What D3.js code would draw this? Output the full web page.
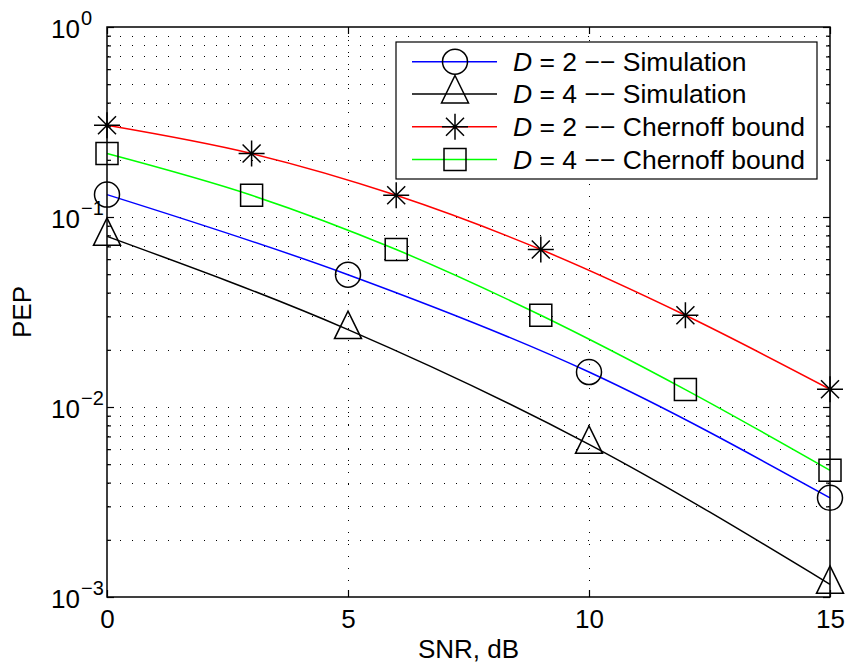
<!DOCTYPE html>
<html>
<head>
<meta charset="utf-8">
<script src="https://cdn.jsdelivr.net/npm/d3@7"></script>
<style>
  html, body { margin: 0; padding: 0; background: #fff; }
  svg { display: block; }
  text { font-family: "Liberation Sans", Arial, Helvetica, sans-serif; fill: #000; }
</style>
</head>
<body>
<svg id="chart" width="845" height="663"></svg>
<script>
// ---------------- data ----------------
const snrSim = [0, 5, 10, 15];
const pepD2Sim = [0.1312, 0.0497, 0.01528, 0.003326];
const pepD4Sim = [0.0791, 0.02555, 0.00636, 0.001166];

const snrBound = [0, 3, 6, 9, 12, 15];
const pepD2Chernoff = [0.3039, 0.2157, 0.1301, 0.0674, 0.03039, 0.01240];
const pepD4Chernoff = [0.2157, 0.1301, 0.0674, 0.0304, 0.01235, 0.004642];

const xTicks = [0, 5, 10, 15];
const yTickExponents = [0, -1, -2, -3];
const yMinorMultipliers = [2, 3, 4, 5, 6, 7, 8, 9];

const seriesNames = ["D2 Simulation", "D4 Simulation", "D2 Chernoff", "D4 Chernoff"];
const legendNumbers = ["2", "4", "2", "4"];
const legendKinds = ["Simulation", "Simulation", "Chernoff bound", "Chernoff bound"];
const seriesColors = ["#0000ff", "#000000", "#ff0000", "#00ff00"];
const seriesMarkers = ["circle", "triangle", "asterisk", "square"];

const xLabel = "SNR, dB";
const yLabel = "PEP";

// ---------------- layout ----------------
const svg = d3.select("#chart");
const L = 107, R = 830, T = 27, B = 597;
const x = d3.scaleLinear().domain([0, 15]).range([L, R]);
const y = d3.scaleLog().domain([1e-3, 1]).range([B, T]);
const FONT = 26;
const LEGEND_FONT = 26.5;

svg.append("rect").attr("x", 0).attr("y", 0).attr("width", 845).attr("height", 663).attr("fill", "#fff");

// grid values
const majorVals = yTickExponents.map(e => Math.pow(10, e));
const minorVals = [];
yTickExponents.slice(1).forEach(e => {
  yMinorMultipliers.forEach(m => minorVals.push(m * Math.pow(10, e)));
});

const grid = svg.append("g").attr("stroke", "#000").attr("stroke-width", 1)
  .attr("stroke-dasharray", "1,11").attr("shape-rendering", "crispEdges");
grid.selectAll("line.h").data(minorVals.concat(majorVals.filter(v => v < 1 && v > 1e-3)))
  .enter().append("line")
  .attr("x1", L + 1).attr("x2", R)
  .attr("y1", d => Math.round(y(d)) + 0.5).attr("y2", d => Math.round(y(d)) + 0.5)
  .attr("stroke-dashoffset", -12);
grid.selectAll("line.v").data(xTicks.filter(v => v > 0 && v < 15))
  .enter().append("line")
  .attr("x1", d => Math.round(x(d)) + 0.5).attr("x2", d => Math.round(x(d)) + 0.5)
  .attr("y1", T + 1).attr("y2", B);

// ---------------- series ----------------
const seriesData = [
  { xs: snrSim, ys: pepD2Sim },
  { xs: snrSim, ys: pepD4Sim },
  { xs: snrBound, ys: pepD2Chernoff },
  { xs: snrBound, ys: pepD4Chernoff }
];

const lineGen = d3.line()
  .x(d => x(d[0])).y(d => y(d[1]))
  .curve(d3.curveMonotoneX);

seriesData.forEach((s, i) => {
  const pts = s.xs.map((v, j) => [v, s.ys[j]]);
  svg.append("path").datum(pts)
    .attr("d", lineGen)
    .attr("fill", "none")
    .attr("stroke", seriesColors[i])
    .attr("stroke-width", 1.5);
});

function markerPath(kind) {
  const p = d3.path();
  if (kind === "circle") {
    p.moveTo(12.5, 0); p.arc(0, 0, 12.5, 0, Math.PI * 2);
  } else if (kind === "triangle") {
    p.moveTo(0, -18.5); p.lineTo(13.5, 9); p.lineTo(-13.5, 9); p.closePath();
  } else if (kind === "square") {
    p.rect(-11, -11, 22, 22);
  } else if (kind === "asterisk") {
    p.moveTo(-13, 0); p.lineTo(13, 0);
    p.moveTo(0, -13); p.lineTo(0, 13);
    p.moveTo(-9, -9); p.lineTo(9, 9);
    p.moveTo(-9, 9); p.lineTo(9, -9);
  }
  return p.toString();
}

// axes box + ticks
const axes = svg.append("g");
const xAxisBottom = d3.axisBottom(x).tickValues(xTicks).tickSize(-7).tickPadding(13).tickFormat(d3.format("d"));
const xAxisTop = d3.axisTop(x).tickValues(xTicks).tickSize(-7).tickFormat("");
const yLeftMajor = d3.axisLeft(y).tickValues(majorVals).tickSize(-7).tickFormat("");
const yLeftMinor = d3.axisLeft(y).tickValues(minorVals).tickSize(-4).tickFormat("");
const yRightMajor = d3.axisRight(y).tickValues(majorVals).tickSize(-7).tickFormat("");
const yRightMinor = d3.axisRight(y).tickValues(minorVals).tickSize(-4).tickFormat("");

function styleAxis(g) {
  g.select(".domain").remove();
  g.selectAll(".tick line").attr("stroke", "#000").attr("stroke-width", 1.2);
  g.selectAll(".tick text").attr("font-size", FONT).attr("font-family", null).attr("fill", "#000");
}
axes.append("g").attr("transform", `translate(0,${B})`).call(xAxisBottom).call(styleAxis);
axes.append("g").attr("transform", `translate(0,${T})`).call(xAxisTop).call(styleAxis);
axes.append("g").attr("transform", `translate(${L},0)`).call(yLeftMajor).call(styleAxis);
axes.append("g").attr("transform", `translate(${L},0)`).call(yLeftMinor).call(styleAxis);
axes.append("g").attr("transform", `translate(${R},0)`).call(yRightMajor).call(styleAxis);
axes.append("g").attr("transform", `translate(${R},0)`).call(yRightMinor).call(styleAxis);

axes.append("rect").attr("x", L).attr("y", T).attr("width", R - L).attr("height", B - T)
  .attr("fill", "none").attr("stroke", "#000").attr("stroke-width", 1.5);

// y tick labels 10^e
const yLab = svg.append("g");
yTickExponents.forEach(e => {
  const ty = y(Math.pow(10, e));
  yLab.append("text").attr("x", 80).attr("y", ty + 10.5).attr("text-anchor", "end")
    .attr("font-size", FONT).text("10");
  yLab.append("text").attr("x", 81).attr("y", ty - 2).attr("text-anchor", "start")
    .attr("font-size", 20).text(e === 0 ? "0" : "\u2212" + Math.abs(e));
});

// markers
seriesData.forEach((s, i) => {
  svg.append("g").selectAll("path").data(s.xs.map((v, j) => [v, s.ys[j]]))
    .enter().append("path")
    .attr("transform", d => `translate(${x(d[0])},${y(d[1])})`)
    .attr("d", markerPath(seriesMarkers[i]))
    .attr("fill", "none").attr("stroke", "#000").attr("stroke-width", 1.5);
});

// axis labels
svg.append("text").attr("x", (L + R) / 2).attr("y", 658).attr("text-anchor", "middle")
  .attr("font-size", FONT).text(xLabel);
svg.append("text").attr("transform", `translate(31,${(T + B) / 2}) rotate(-90)`)
  .attr("text-anchor", "middle").attr("font-size", FONT).text(yLabel);

// ---------------- legend ----------------
const lg = svg.append("g");
const LX0 = 396, LY0 = 42, LX1 = 817, LY1 = 179;
lg.append("rect").attr("x", LX0).attr("y", LY0).attr("width", LX1 - LX0).attr("height", LY1 - LY0)
  .attr("fill", "#fff").attr("stroke", "#000").attr("stroke-width", 1.2);
const rowY = [61.7, 94, 126.7, 159.5];
seriesNames.forEach((name, i) => {
  const ry = rowY[i];
  lg.append("line").attr("x1", 412).attr("x2", 497).attr("y1", ry).attr("y2", ry)
    .attr("stroke", seriesColors[i]).attr("stroke-width", 1.5);
  lg.append("path").attr("transform", `translate(455,${ry})`).attr("d", markerPath(seriesMarkers[i]))
    .attr("fill", "none").attr("stroke", "#000").attr("stroke-width", 1.5);
  const t = lg.append("text").attr("x", 513).attr("y", ry + 9.3).attr("font-size", LEGEND_FONT);
  t.append("tspan").attr("font-style", "italic").text("D");
  t.append("tspan").text(" = " + legendNumbers[i] + " \u2212\u2212 " + legendKinds[i]);
});
</script>
</body>
</html>
